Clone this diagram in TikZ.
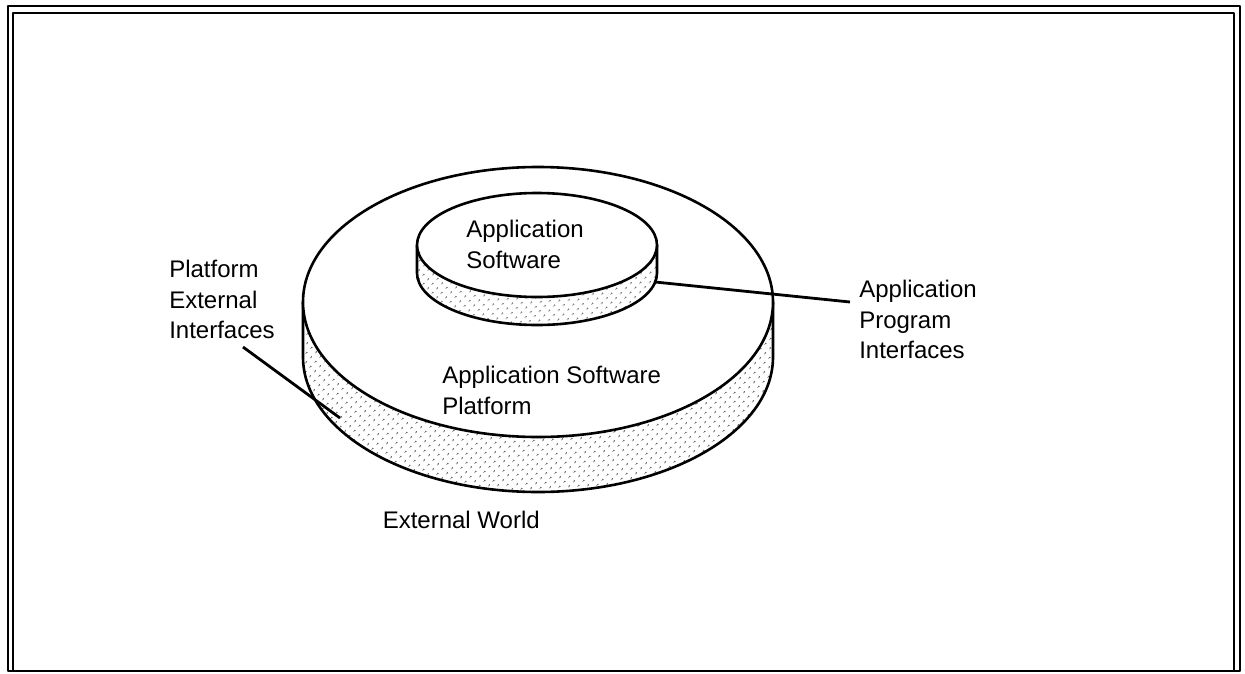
\documentclass[tikz,border=0pt]{standalone}
\usepackage{fontspec}
\setmainfont{Liberation Sans}
\usetikzlibrary{patterns.meta}
\begin{document}
\begin{tikzpicture}[x=1pt,y=-1pt,line width=2.6pt,line join=round,
  lbl/.style={font=\fontsize{24}{30.5}\selectfont,inner sep=0pt,align=left,anchor=north west},
  stip/.style={pattern={Dots[distance=6.5pt,radius=0.9pt,angle=45]}},
  edge/.style={line width=2.8pt}]
\useasboundingbox (0,0) rectangle (1245,673);
% frame
\draw[line width=2.2pt] (8,6) rectangle (1240,671);
\draw[line width=1.8pt] (13,671) -- (13,13) -- (1234,13) -- (1234,671);
% big disk
\fill[stip] (303,302) -- (303,357) arc[start angle=180,end angle=0,x radius=235,y radius=135]
  -- (773,302) arc[start angle=0,end angle=180,x radius=235,y radius=135] -- cycle;
\draw (303,302) -- (303,357) arc[start angle=180,end angle=0,x radius=235,y radius=135] -- (773,302);
\draw[fill=white] (538,302) ellipse[x radius=235,y radius=135];
% small disk
\fill[stip] (417,245) -- (417,273) arc[start angle=180,end angle=0,x radius=120,y radius=52]
  -- (657,245) arc[start angle=0,end angle=180,x radius=120,y radius=52] -- cycle;
\draw (417,245) -- (417,273) arc[start angle=180,end angle=0,x radius=120,y radius=52] -- (657,245);
\draw[fill=white] (537,245) ellipse[x radius=120,y radius=52];
% labels
\node[lbl] (as) at (465,219) {Application\\Software};
\node[lbl] (asp) at (441,365) {Application Software\\Platform};
\node[lbl] (api) at (858,279) {Application\\Program\\Interfaces};
\node[lbl] (pei) at (168,259) {Platform\\External\\Interfaces};
\node[lbl,anchor=north east] (ew) at (541,510) {External World};
% connectors
\coordinate (apiS) at (655,282);
\coordinate (apiE) at (850,302);
\coordinate (peiS) at (243,347);
\coordinate (peiE) at (340,418);
\draw[edge] (apiS) -- (apiE);
\draw[edge] (peiS) -- (peiE);
\end{tikzpicture}
\end{document}
